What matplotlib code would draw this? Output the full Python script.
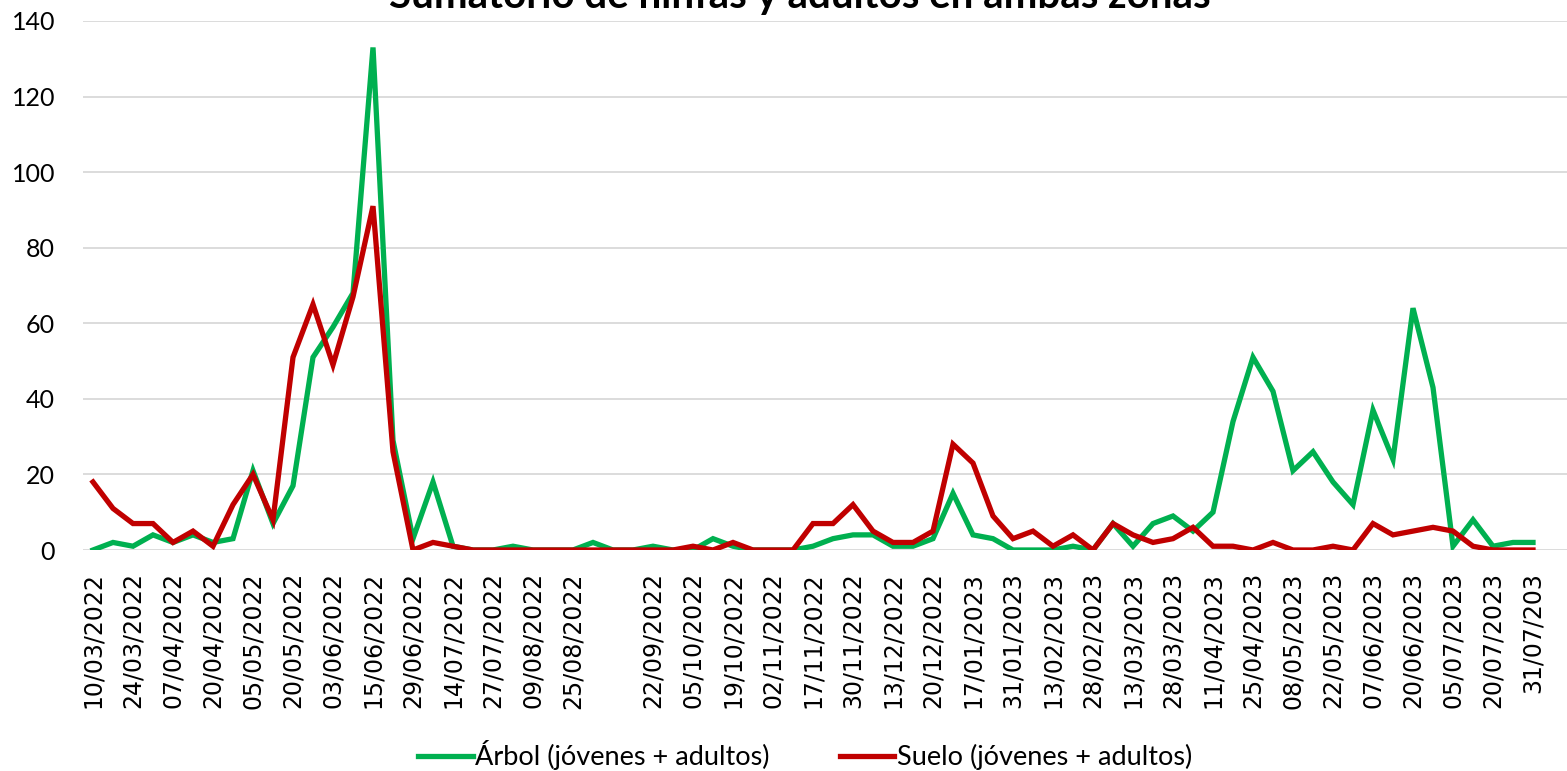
import matplotlib.pyplot as plt
import numpy as np

# etiquetas del eje x (una de cada dos fechas, la de sep. vacia)
etiquetas = ['10/03/2022', '24/03/2022', '07/04/2022', '20/04/2022', '05/05/2022',
             '20/05/2022', '03/06/2022', '15/06/2022', '29/06/2022', '14/07/2022',
             '27/07/2022', '09/08/2022', '25/08/2022', '', '22/09/2022',
             '05/10/2022', '19/10/2022', '02/11/2022', '17/11/2022', '30/11/2022',
             '13/12/2022', '20/12/2022', '17/01/2023', '31/01/2023', '13/02/2023',
             '28/02/2023', '13/03/2023', '28/03/2023', '11/04/2023', '25/04/2023',
             '08/05/2023', '22/05/2023', '07/06/2023', '20/06/2023', '05/07/2023',
             '20/07/2023', '31/07/203']

arbol = [0, 2, 1, 4, 2, 4, 2, 3, 21, 7, 17, 51, 59, 68, 133, 29, 3, 18, 1, 0,
         0, 1, 0, 0, 0, 2, 0, 0, 1, 0, 0, 3, 1, 0, 0, 0, 1, 3, 4, 4,
         1, 1, 3, 15, 4, 3, 0, 0, 0, 1, 0, 7, 1, 7, 9, 5, 10, 34, 51, 42,
         21, 26, 18, 12, 37, 24, 64, 43, 1, 8, 1, 2, 2]

suelo = [18, 11, 7, 7, 2, 5, 1, 12, 20, 8, 51, 65, 49, 67, 91, 26, 0, 2, 1, 0,
         0, 0, 0, 0, 0, 0, 0, 0, 0, 0, 1, 0, 2, 0, 0, 0, 7, 7, 12, 5,
         2, 2, 5, 28, 23, 9, 3, 5, 1, 4, 0, 7, 4, 2, 3, 6, 1, 1, 0, 2,
         0, 0, 1, 0, 7, 4, 5, 6, 5, 1, 0, 0, 0]

x = np.arange(len(arbol))

fig = plt.figure(figsize=(15.67, 7.71), dpi=100)
ax = fig.add_axes([83 / 1567, 1 - 550 / 771, 1 - 83 / 1567, (550 - 21) / 771])

ax.plot(x, arbol, color='#00B050', lw=3.8, solid_joinstyle='miter', label='Árbol (jóvenes + adultos)')
ax.plot(x, suelo, color='#C00000', lw=3.8, solid_joinstyle='miter', label='Suelo (jóvenes + adultos)')

ax.set_ylim(0, 140)
ax.set_yticks(range(0, 141, 20))
ax.set_xlim(-0.5, 73.7)
ax.set_xticks(x[::2])
ax.set_xticklabels(etiquetas, rotation=90, fontsize=17, family='DejaVu Sans')
ax.tick_params(axis='y', length=0, pad=20, labelsize=18)
ax.tick_params(axis='x', length=0, pad=16)
for lab in ax.get_yticklabels():
    lab.set_family('Lato')

ax.grid(axis='y', color='#D9D9D9', lw=1.3)
ax.set_axisbelow(True)
for s in ax.spines.values():
    s.set_visible(False)

# titulo cortado por arriba, como en la imagen original
fig.text(0.5105, 1 - 8 / 771, 'Sumatorio de ninfas y adultos en ambas zonas',
         ha='center', va='baseline', fontsize=29, fontweight='bold', family='Lato')

fig.legend(loc='center', bbox_to_anchor=(0.514, 1 - 755 / 771), ncol=2, frameon=False,
           prop={'family': 'Lato', 'size': 19.5}, handlelength=2.0, handletextpad=0.1,
           columnspacing=2.6)

fig.savefig('out.png', dpi=100)
